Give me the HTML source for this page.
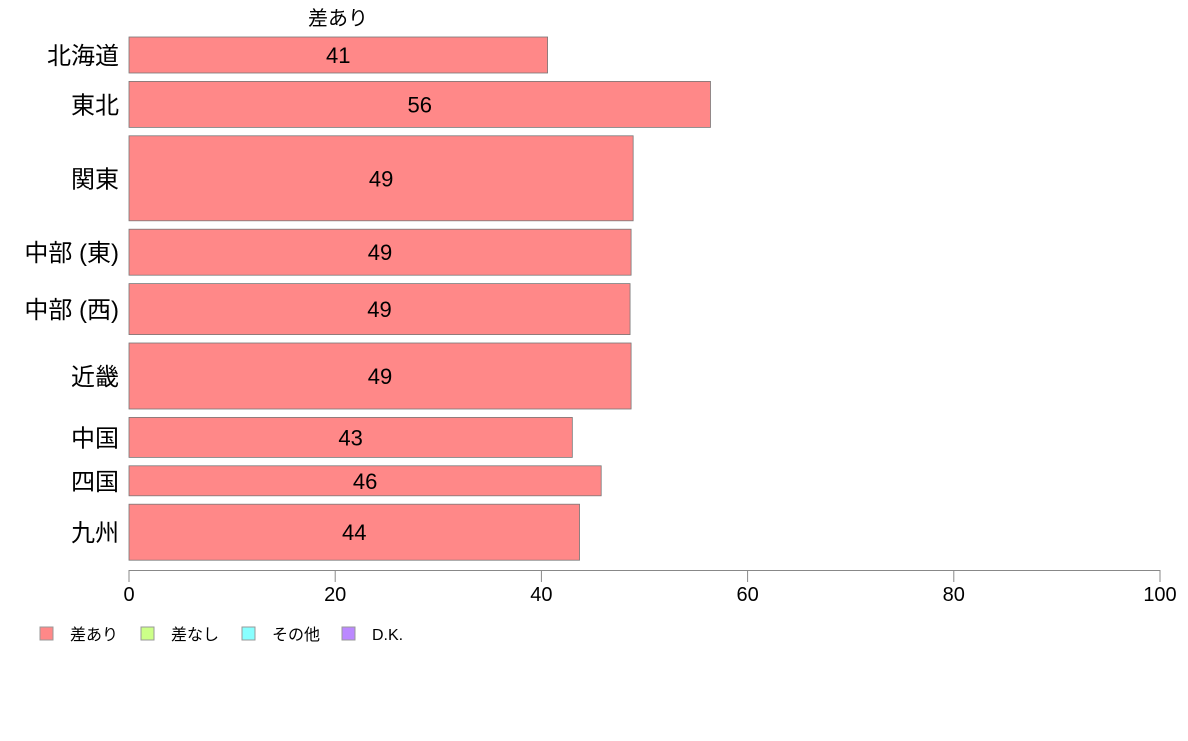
<!DOCTYPE html>
<html><head><meta charset="utf-8"><style>
body{margin:0;background:#fff;}
svg text{font-family:"Liberation Sans","Noto Sans CJK JP",sans-serif;fill:#000;}
</style></head><body>
<svg id="chart" width="1188" height="736" xmlns="http://www.w3.org/2000/svg">
<text x="338" y="25" font-size="20" text-anchor="middle">差あり</text>
<g id="bars"></g>
<g id="axis"></g>
<g id="legend"></g>
</svg>
<script>
const categories=["北海道","東北","関東","中部 (東)","中部 (西)","近畿","中国","四国","九州"];
const values=[40.6,56.4,48.9,48.7,48.6,48.7,43.0,45.8,43.7];
const labels=["41","56","49","49","49","49","43","46","44"];
const weights=[36,46,85,46,51,66,40,30,56];
const ticks=[0,20,40,60,80,100];
const legendItems=["差あり","差なし","その他","D.K."];
const legendColors=["#ff8888","#ccff88","#88ffff","#bb88ff"];

const NS="http://www.w3.org/2000/svg";
const x0=129,x1=1160,yTop=37,gap=8.4;
const sx=v=>x0+(x1-x0)*v/100;
function mk(t,a,p){const e=document.createElementNS(NS,t);for(const k in a)e.setAttribute(k,a[k]);p.appendChild(e);return e;}
const bars=document.getElementById('bars');
let y=yTop;
categories.forEach((c,i)=>{
  const h=weights[i];
  const r=mk('rect',{x:x0,y:y,width:sx(values[i])-x0,height:h,fill:'#ff8888',stroke:'#777','stroke-width':0.8},bars);
  
  
  const t=mk('text',{x:(x0+sx(values[i]))/2,y:y+h/2+8,'font-size':22,'text-anchor':'middle'},bars);
  t.textContent=labels[i];
  
  
  const l=mk('text',{x:119,y:y+h/2+9,'font-size':24,'text-anchor':'end'},bars);
  l.textContent=c;
  
  
  y+=h+gap;
});
const ax=document.getElementById('axis');
mk('line',{x1:x0,x2:x1,y1:570.5,y2:570.5,stroke:'#888','stroke-width':1},ax);
ticks.forEach(v=>{
  mk('line',{x1:sx(v),x2:sx(v),y1:570,y2:582,stroke:'#888','stroke-width':1},ax);
  const t=mk('text',{x:sx(v),y:601,'font-size':20,'text-anchor':'middle'},ax);
  t.textContent=v;
  
  
});
const lg=document.getElementById('legend');
const lx=[40,141,242,342];
legendItems.forEach((s,i)=>{
  const r=mk('rect',{x:lx[i],y:627,width:13,height:13,fill:legendColors[i],stroke:'#999','stroke-width':1},lg);
  
  
  const t=mk('text',{x:lx[i]+30,y:640,'font-size':16},lg);
  t.textContent=s;
  
  
});
</script>
</body></html>
